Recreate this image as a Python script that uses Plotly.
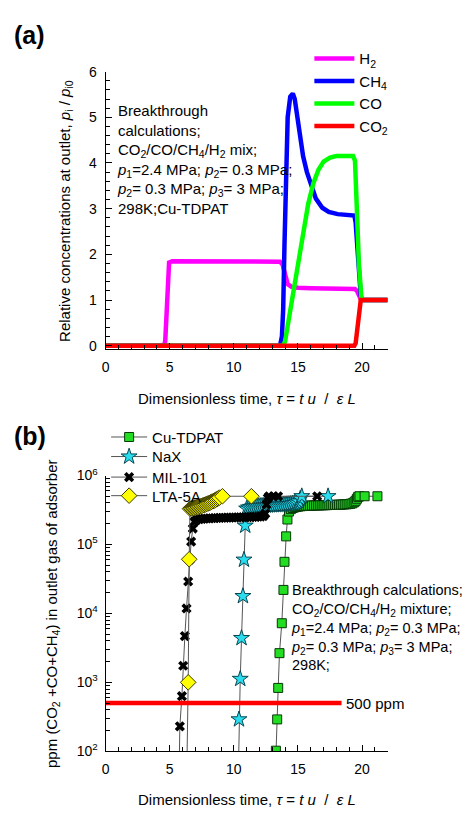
import plotly.graph_objects as go

W, H = 467, 816
FONT = "Liberation Sans, Arial, sans-serif"

# ---------------- panel (a) data ----------------
h2_tau = [0, 4.55, 4.65, 4.75, 4.85, 4.95, 5.2, 8, 12, 13.6, 13.8, 14.0, 14.2, 14.5, 15, 16, 17, 18, 19, 19.45, 19.6, 19.75, 19.9, 20.1, 22]
h2_val = [0, 0, 0.1, 0.8, 1.6, 1.82, 1.85, 1.85, 1.85, 1.84, 1.78, 1.55, 1.35, 1.29, 1.27, 1.26, 1.25, 1.25, 1.25, 1.24, 1.2, 1.1, 1.02, 1.0, 1.0]

ch4_tau = [0, 13.6, 13.75, 13.85, 13.95, 14.05, 14.2, 14.4, 14.6, 14.75, 14.9, 15.1, 15.4, 15.7, 16.05, 16.4, 16.9, 17.4, 18.1, 19.0, 19.4, 19.5, 19.6, 19.7, 19.8, 19.9, 20.0, 22]
ch4_val = [0, 0, 0.2, 0.8, 2.2, 3.8, 5.0, 5.45, 5.52, 5.4, 5.1, 4.7, 4.15, 3.8, 3.48, 3.22, 3.02, 2.93, 2.88, 2.86, 2.85, 2.7, 2.3, 1.8, 1.35, 1.1, 1.0, 1.0]

co_tau = [0, 13.85, 14.0, 14.3, 14.6, 15.0, 15.4, 15.8, 16.2, 16.6, 17.0, 17.5, 18.0, 19.0, 19.3, 19.45, 19.55, 19.65, 19.75, 19.85, 19.95, 20.1, 22]
co_val = [0, 0, 0.1, 0.6, 1.15, 1.85, 2.55, 3.1, 3.55, 3.85, 4.03, 4.12, 4.15, 4.16, 4.15, 4.05, 3.5, 2.6, 1.8, 1.3, 1.05, 1.0, 1.0]

co2_tau = [0, 19.4, 19.5, 19.6, 19.7, 19.8, 19.9, 22]
co2_val = [0, 0, 0.05, 0.3, 0.7, 0.93, 1.0, 1.0]

# ---------------- panel (b) data ----------------
cu_tau = [13.20, 13.28, 13.38, 13.46, 13.56, 13.74, 13.87, 13.95, 14.08, 14.18,
          14.30, 14.45, 14.60, 14.75, 14.90, 15.05, 15.20, 15.35, 15.50, 15.65, 15.80, 15.95,
          16.10, 16.25, 16.40, 16.55, 16.70, 16.85, 17.00, 17.15, 17.30, 17.45, 17.60, 17.75,
          17.90, 18.05, 18.20, 18.35, 18.50, 18.65, 18.80, 18.95, 19.10, 19.25, 19.40,
          19.50, 19.60, 19.70, 19.80, 20.20, 21.20]
cu_ppm = [30, 102, 290, 830, 2650, 7200, 21900, 56000, 131000, 230000,
          300000, 325000, 338000, 346000, 351000, 355000, 358000, 360000, 362000, 363000, 364000, 365000,
          366000, 367000, 368000, 368000, 369000, 370000, 371000, 371000, 372000, 373000, 374000, 374000,
          375000, 376000, 377000, 378000, 380000, 381000, 383000, 385000, 389000, 395000, 410000,
          430000, 460000, 490000, 500000, 500000, 500000]

nax_tau = [10.33, 10.40, 10.50, 10.60, 10.71, 10.79, 10.89,
           11.00, 11.15, 11.30, 11.45, 11.60, 11.75, 11.90, 12.05, 12.20, 12.35, 12.50, 12.65, 12.80, 12.95,
           13.10, 13.25, 13.40, 13.55, 13.70, 13.85, 14.00, 14.15, 14.30, 14.45, 14.60, 14.75, 14.90, 15.05,
           15.18, 15.30, 17.35]
nax_ppm = [30, 290, 1120, 4380, 17800, 60000, 187000,
           330000, 342000, 349000, 353000, 356000, 358000, 360000, 362000, 363000, 365000, 366000, 367000, 369000, 370000,
           371000, 373000, 374000, 376000, 377000, 379000, 381000, 383000, 385000, 388000, 392000, 397000, 405000, 420000,
           460000, 500000, 500000]

mil_tau = [5.70, 5.79, 5.95, 6.05, 6.18, 6.31, 6.44, 6.55, 6.67, 6.80, 6.92,
           7.10, 7.30, 7.50, 7.70, 7.90, 8.10, 8.30, 8.50, 8.70, 8.90, 9.10, 9.30, 9.50, 9.70,
           9.90, 10.10, 10.30, 10.50, 10.70, 10.90, 11.10, 11.30, 11.50, 11.70, 11.90, 12.10, 12.30,
           12.45, 12.55, 12.65, 12.75, 13.10, 13.45, 16.50]
mil_ppm = [20, 230, 630, 1740, 4680, 11800, 29000, 60000, 110000, 170000, 214000,
           228000, 232000, 235000, 237000, 238000, 239000, 240000, 241000, 242000, 243000, 244000, 244000, 245000, 245000,
           246000, 246000, 247000, 247000, 248000, 248000, 249000, 249000, 250000, 251000, 252000, 254000, 258000,
           280000, 380000, 470000, 500000, 500000, 500000, 500000]

lta_tau = [6.30, 6.44, 6.52,
           6.58, 6.68, 6.78, 6.88, 6.98, 7.08, 7.18, 7.28, 7.38, 7.48, 7.58, 7.68,
           7.78, 7.88, 7.98, 8.08, 8.18, 8.28, 8.38, 8.48, 8.58, 8.68, 8.78, 8.88,
           9.11, 11.37]
lta_ppm = [20, 1000, 61000,
           330000, 333000, 336000, 339000, 342000, 346000, 350000, 354000, 358000, 363000, 368000, 374000,
           380000, 386000, 393000, 400000, 408000, 416000, 425000, 434000, 443000, 454000, 466000, 478000,
           500000, 500000]

thr_tau = [0, 18.4]
thr_ppm = [500, 500]

x_ticks = [0, 5, 10, 15, 20]
ya_ticks = [0, 1, 2, 3, 4, 5, 6]
yb_ticks = [100, 1000, 10000, 100000, 1000000]
yb_text = ["10<sup>2</sup>", "10<sup>3</sup>", "10<sup>4</sup>", "10<sup>5</sup>", "10<sup>6</sup>"]


def px(x):
    return x / W


def py(y):
    return 1 - y / H


fig = go.Figure()

# panel (a)
for name, t, v, col in [("H<sub>2</sub>", h2_tau, h2_val, "#FF00FF"),
                        ("CH<sub>4</sub>", ch4_tau, ch4_val, "#0000FF"),
                        ("CO", co_tau, co_val, "#00FF00"),
                        ("CO<sub>2</sub>", co2_tau, co2_val, "#FF0000")]:
    fig.add_trace(go.Scatter(x=t, y=v, name=name, mode="lines", xaxis="x", yaxis="y",
                             line=dict(color=col, width=4.5), legend="legend"))

# panel (b)
line_b = dict(color="#555555", width=1)
fig.add_trace(go.Scatter(x=cu_tau, y=cu_ppm, name="Cu-TDPAT", mode="lines+markers", xaxis="x2", yaxis="y2",
                         line=line_b, legend="legend2",
                         marker=dict(symbol="square", size=9, color="#22DD22", line=dict(color="#063806", width=1))))
fig.add_trace(go.Scatter(x=nax_tau, y=nax_ppm, name="NaX", mode="lines+markers", xaxis="x2", yaxis="y2",
                         line=line_b, legend="legend3",
                         marker=dict(symbol="star", size=12, color="#2ADDEE", line=dict(color="#064650", width=1))))
fig.add_trace(go.Scatter(x=mil_tau, y=mil_ppm, name="MIL-101", mode="lines+markers", xaxis="x2", yaxis="y2",
                         line=line_b, legend="legend4",
                         marker=dict(symbol="x", size=9, color="#000000", line=dict(width=0))))
fig.add_trace(go.Scatter(x=lta_tau, y=lta_ppm, name="LTA-5A", mode="lines+markers", xaxis="x2", yaxis="y2",
                         line=line_b, legend="legend5",
                         marker=dict(symbol="diamond", size=12, color="#FFFF00", line=dict(color="#3A3A00", width=1))))
fig.add_trace(go.Scatter(x=thr_tau, y=thr_ppm, mode="lines", xaxis="x2", yaxis="y2", showlegend=False,
                         line=dict(color="#FF0000", width=4.5)))

tickfont = dict(family=FONT, size=14, color="black")
common_x = dict(range=[0, 22], showgrid=False, zeroline=False, showline=True, linecolor="black", linewidth=1,
                ticks="inside", ticklen=6, tickcolor="black", tickvals=x_ticks, tickfont=tickfont,
                minor=dict(ticks="inside", dtick=1, ticklen=4, tickcolor="black"),
                domain=[px(102.5), px(387)], ticklabelstandoff=5)

legfont = dict(family=FONT, size=15, color="black")


def leg(x, top, w):
    return dict(x=px(x), y=py(top), xanchor="left", yanchor="top", bgcolor="rgba(0,0,0,0)",
                font=legfont, itemwidth=w, tracegroupgap=0, borderwidth=0)


fig.update_layout(
    width=W, height=H, margin=dict(l=0, r=0, t=0, b=0),
    paper_bgcolor="white", plot_bgcolor="white",
    font=dict(family=FONT, size=15, color="black"),
    xaxis=dict(common_x, anchor="y"),
    yaxis=dict(range=[-0.08, 6], domain=[py(347), py(63)], anchor="x", showgrid=False, zeroline=False,
               showline=True, linecolor="black", linewidth=1, ticks="inside", ticklen=6, tickcolor="black",
               tickvals=ya_ticks, tickfont=tickfont, ticklabelstandoff=5,
               minor=dict(ticks="inside", dtick=0.2, ticklen=4, tickcolor="black")),
    xaxis2=dict(common_x, anchor="y2"),
    yaxis2=dict(type="log", range=[2, 6], domain=[py(758), py(476)], anchor="x2", showgrid=False, zeroline=False,
                showline=True, linecolor="black", linewidth=1, ticks="inside", ticklen=6, tickcolor="black",
                tickvals=yb_ticks, ticktext=yb_text, tickfont=tickfont, ticklabelstandoff=4,
                minor=dict(ticks="inside", ticklen=4, tickcolor="black", dtick="D1")),
    legend=leg(308, 33, 40),
    legend2=leg(103, 420, 36),
    legend3=leg(103, 440, 36),
    legend4=leg(103, 461, 36),
    legend5=leg(103, 480, 36),
)

ann = []
ann.append(dict(text="<b>(a)</b>", x=px(8), y=py(26), xanchor="left", yanchor="middle",
                font=dict(size=25)))
ann.append(dict(text="<b>(b)</b>", x=px(8), y=py(436), xanchor="left", yanchor="middle",
                font=dict(size=25)))

# axis titles
xt = "Dimensionless time, <i>τ</i> = <i>t u</i>  /  <i>ε L</i>"
ann.append(dict(text=xt, x=px(245), y=py(397), xanchor="center", yanchor="middle"))
ann.append(dict(text=xt, x=px(245), y=py(807), xanchor="center", yanchor="middle"))
ann.append(dict(text="Relative concentrations at outlet, <i>p</i><sub>i</sub> / <i>p</i><sub>i0</sub>",
                x=px(62), y=py(205), textangle=-90, xanchor="center", yanchor="middle"))
ann.append(dict(text="ppm (CO<sub>2</sub> +CO+CH<sub>4</sub>) in outlet gas of adsorber",
                x=px(49), y=py(617), textangle=-90, xanchor="center", yanchor="middle"))

# text blocks
text_a = "<br>".join(["Breakthrough", "calculations;", "CO<sub>2</sub>/CO/CH<sub>4</sub>/H<sub>2</sub> mix;",
                      "<i>p</i><sub>1</sub>=2.4 MPa; <i>p</i><sub>2</sub>= 0.3 MPa;",
                      "<i>p</i><sub>2</sub>= 0.3 MPa; <i>p</i><sub>3</sub>= 3 MPa;", "298K;Cu-TDPAT"])
ann.append(dict(text=text_a, x=px(112), y=py(92), xanchor="left", yanchor="top", align="left"))

text_b = "<br>".join(["Breakthrough calculations;", "CO<sub>2</sub>/CO/CH<sub>4</sub>/H<sub>2</sub> mixture;",
                      "<i>p</i><sub>1</sub>=2.4 MPa; <i>p</i><sub>2</sub>= 0.3 MPa;",
                      "<i>p</i><sub>2</sub>= 0.3 MPa; <i>p</i><sub>3</sub>= 3 MPa;", "298K;"])
ann.append(dict(text=text_b, x=px(287), y=py(583), xanchor="left", yanchor="top", align="left",
                font=dict(size=14.5)))

ann.append(dict(text="500 ppm", x=18.6, y=2.699, xref="x2", yref="y2", xanchor="left", yanchor="middle"))

for a in ann:
    a.setdefault("xref", "paper")
    a.setdefault("yref", "paper")
    a["showarrow"] = False
fig.update_layout(annotations=ann)

fig.write_html("out.html")
